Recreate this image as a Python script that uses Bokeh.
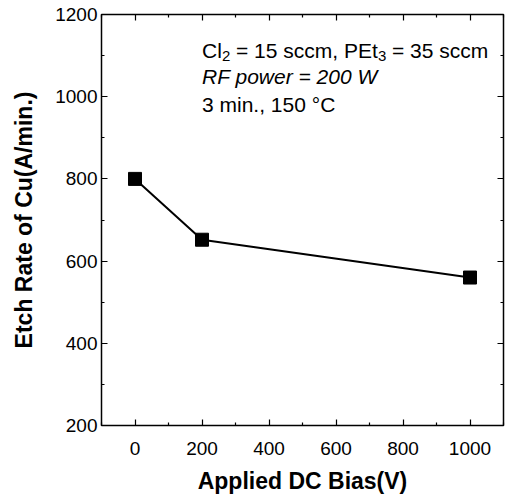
from bokeh.plotting import figure
from bokeh.models import LinearAxis, Label, Range1d, FixedTicker, CustomJSTickFormatter
from bokeh.embed import file_html
from bokeh.resources import INLINE

bias = [0, 200, 1000]
etch_rate = [800, 652, 560]
x_ticks = [0, 200, 400, 600, 800, 1000]
y_ticks = [200, 400, 600, 800, 1000, 1200]
x_minor = [-100, 100, 300, 500, 700, 900, 1100]
y_minor = [300, 500, 700, 900, 1100]
line1_parts = ["Cl", "2", "= 15 sccm, PEt", "3", "= 35 sccm"]
line2 = "RF power = 200 W"
line3 = "3 min., 150 \u00b0C"

FONT = "Liberation Sans"

p = figure(width=509, height=496, output_backend="svg", toolbar_location=None,
           x_range=Range1d(-100, 1100), y_range=Range1d(200, 1200),
           min_border_left=101, min_border_top=14, min_border_right=6, min_border_bottom=69,
           x_axis_label="Applied DC Bias(V)", y_axis_label="Etch Rate of Cu(A/min.)")
p.grid.visible = False
p.outline_line_color = "black"
p.outline_line_width = 1.5
p.background_fill_color = "white"
p.border_fill_color = "white"

def style_axis(ax, ticks, minor, show_labels=True):
    ax.ticker = FixedTicker(ticks=ticks, minor_ticks=minor)
    ax.major_tick_in = 6
    ax.major_tick_out = 0
    ax.minor_tick_in = 3
    ax.minor_tick_out = 0
    ax.axis_line_color = None
    ax.major_tick_line_width = 1.2
    ax.minor_tick_line_width = 1.2
    ax.major_label_text_font = FONT
    ax.major_label_text_font_size = "19px"
    ax.major_label_text_color = "black"
    ax.axis_label_text_font = FONT
    ax.axis_label_text_font_size = "23px"
    ax.axis_label_text_font_style = "bold"
    ax.axis_label_text_color = "black"
    if not show_labels:
        ax.formatter = CustomJSTickFormatter(code="return ''")
        ax.major_label_standoff = 0

style_axis(p.xaxis[0], x_ticks, x_minor)
style_axis(p.yaxis[0], y_ticks, y_minor)
p.xaxis[0].major_label_standoff = 16
p.xaxis[0].axis_label_standoff = 10
p.yaxis[0].major_label_standoff = 4
p.yaxis[0].axis_label_standoff = 15

top = LinearAxis()
right = LinearAxis()
style_axis(top, x_ticks, x_minor, show_labels=False)
style_axis(right, y_ticks, y_minor, show_labels=False)
p.add_layout(top, "above")
p.add_layout(right, "right")

p.line(bias, etch_rate, line_color="black", line_width=2)
p.scatter(bias, etch_rate, marker="square", size=13, fill_color="black", line_color="black")

TX = 200
# line 1 with subscripts, pieces placed by pixel offsets
offsets = [0, 20, 34, 176, 190]
sizes = ["21px", "15px", "21px", "15px", "21px"]
yoffs = [0, -6, 0, -6, 0]
for t, xo, fs, yo in zip(line1_parts, offsets, sizes, yoffs):
    p.add_layout(Label(x=TX, y=1113, x_offset=xo, y_offset=yo, text=t, text_font=FONT,
                       text_font_size=fs, text_color="black", text_baseline="alphabetic"))
p.add_layout(Label(x=TX, y=1048, text=line2, text_font=FONT, text_font_size="21px",
                   text_color="black", text_font_style="italic", text_baseline="alphabetic"))
p.add_layout(Label(x=TX, y=982, text=line3, text_font=FONT, text_font_size="21px",
                   text_color="black", text_baseline="alphabetic"))

open("out.html", "w").write(file_html(p, INLINE))
